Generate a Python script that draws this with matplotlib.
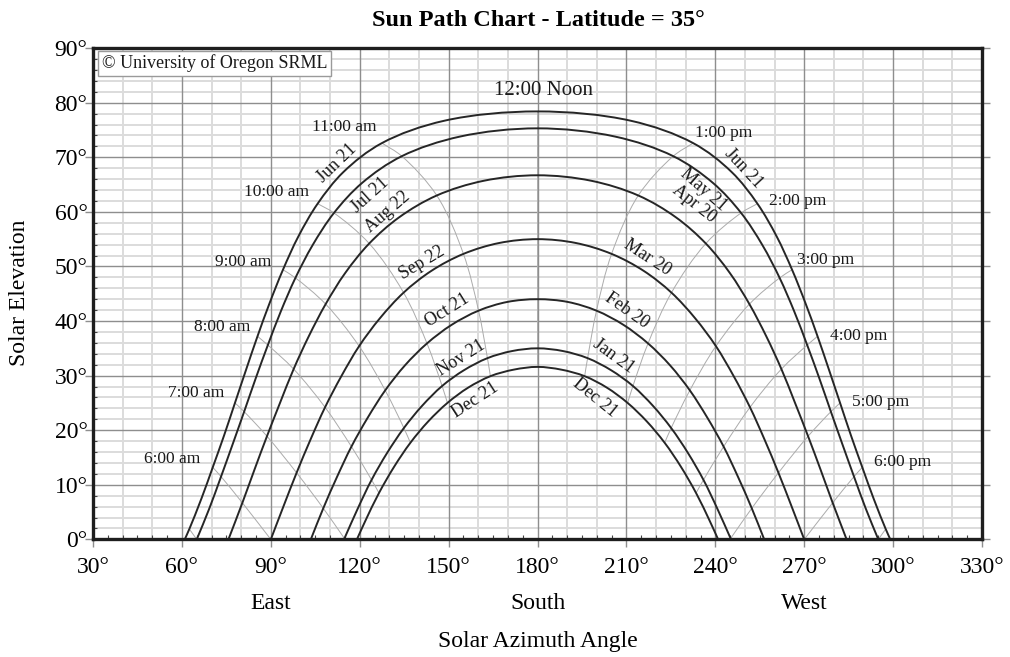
import numpy as np
import matplotlib
matplotlib.use("Agg")
import matplotlib.pyplot as plt
from matplotlib.path import Path
from matplotlib.patches import PathPatch

plt.rcParams['font.family'] = ['Liberation Serif', 'DejaVu Serif']

# Solar time, every half hour from 5:00 am to 7:00 pm (whole hours carry the hour lines)
TIMES = [5 + 0.5 * k for k in range(29)]

# Date curves: label on the morning side and on the afternoon side
DATES_AM = ["Jun 21", "Jul 21", "Aug 22", "Sep 22", "Oct 21", "Nov 21", "Dec 21"]
DATES_PM = ["Jun 21", "May 21", "Apr 20", "Mar 20", "Feb 20", "Jan 21", "Dec 21"]

# Azimuth where each date curve meets the horizon
SUNRISE_AZ = [60.95, 65.0, 75.7, 90.0, 103.5, 114.7, 119.05]
SUNSET_AZ = [299.05, 295.0, 284.3, 270.0, 256.5, 245.3, 240.95]

# Sun position (azimuth, elevation in degrees) at each time; None = sun below horizon
N = None
AZ_JUN21 = [62.5, 66.6, 70.4, 74.2, 77.9, 81.6, 85.5, 89.6, 94.1, 99.3, 105.8, 114.5, 127.5, 148.6, 180.0,
            211.4, 232.5, 245.5, 254.2, 260.7, 265.9, 270.4, 274.5, 278.4, 282.1, 285.8, 289.6, 293.4, 297.5]
EL_JUN21 = [1.9, 7.5, 13.2, 19.0, 25.0, 31.0, 37.2, 43.3, 49.4, 55.5, 61.5, 67.3, 72.6, 76.7, 78.4,
            76.7, 72.6, 67.3, 61.5, 55.5, 49.4, 43.3, 37.2, 31.0, 25.0, 19.0, 13.2, 7.5, 1.9]
AZ_MAY21 = [65.0, 69.2, 73.2, 77.1, 81.0, 84.9, 89.0, 93.4, 98.3, 104.1, 111.3, 120.8, 134.2, 153.9, 180.0,
            206.1, 225.8, 239.2, 248.7, 255.9, 261.7, 266.6, 271.0, 275.1, 279.0, 282.9, 286.8, 290.8, 295.0]
EL_MAY21 = [0.0, 5.6, 11.5, 17.4, 23.4, 29.5, 35.6, 41.8, 47.9, 53.9, 59.8, 65.3, 70.2, 73.8, 75.3,
            73.8, 70.2, 65.3, 59.8, 53.9, 47.9, 41.8, 35.6, 29.5, 23.4, 17.4, 11.5, 5.6, 0.0]
AZ_APR20 = [N, 76.1, 80.4, 84.5, 88.7, 93.1, 97.7, 102.8, 108.5, 115.1, 123.2, 133.3, 146.0, 161.9, 180.0,
            198.1, 214.0, 226.7, 236.8, 244.9, 251.5, 257.2, 262.3, 266.9, 271.3, 275.5, 279.6, 283.9, N]
EL_APR20 = [N, 0.7, 6.7, 12.8, 18.9, 25.0, 31.2, 37.2, 43.1, 48.8, 54.2, 59.0, 63.0, 65.7, 66.7,
            65.7, 63.0, 59.0, 54.2, 48.8, 43.1, 37.2, 31.2, 25.0, 18.9, 12.8, 6.7, 0.7, N]
AZ_MAR20 = [N, N, 90.0, 94.3, 98.7, 103.4, 108.3, 113.8, 119.8, 126.8, 134.8, 144.2, 155.0, 167.1, 180.0,
            192.9, 205.0, 215.8, 225.2, 233.2, 240.2, 246.2, 251.7, 256.6, 261.3, 265.7, 270.0, N, N]
EL_MAR20 = [N, N, 0.0, 6.1, 12.2, 18.3, 24.2, 29.9, 35.4, 40.5, 45.2, 49.2, 52.3, 54.3, 55.0,
            54.3, 52.3, 49.2, 45.2, 40.5, 35.4, 29.9, 24.2, 18.3, 12.2, 6.1, 0.0, N, N]
AZ_FEB20 = [N, N, N, N, 107.7, 112.3, 117.2, 122.7, 128.6, 135.3, 142.7, 151.0, 160.1, 169.8, 180.0,
            190.2, 199.9, 209.0, 217.3, 224.7, 231.4, 237.3, 242.8, 247.7, 252.3, N, N, N, N]
EL_FEB20 = [N, N, N, N, 5.7, 11.4, 17.0, 22.3, 27.3, 31.9, 35.9, 39.3, 41.9, 43.5, 44.0,
            43.5, 41.9, 39.3, 35.9, 31.9, 27.3, 22.3, 17.0, 11.4, 5.7, N, N, N, N]
AZ_JAN21 = [N, N, N, N, 114.8, 119.3, 124.0, 129.2, 134.9, 141.1, 147.8, 155.2, 163.1, 171.4, 180.0,
            188.6, 196.9, 204.8, 212.2, 218.9, 225.1, 230.8, 236.0, 240.7, 245.2, N, N, N, N]
EL_JAN21 = [N, N, N, N, 0.2, 5.6, 10.9, 15.8, 20.4, 24.5, 28.1, 31.0, 33.2, 34.5, 35.0,
            34.5, 33.2, 31.0, 28.1, 24.5, 20.4, 15.8, 10.9, 5.6, 0.2, N, N, N, N]
AZ_DEC21 = [N, N, N, N, N, 121.9, 126.5, 131.6, 137.1, 143.1, 149.6, 156.6, 164.1, 172.0, 180.0,
            188.0, 195.9, 203.4, 210.4, 216.9, 222.9, 228.4, 233.5, 238.1, N, N, N, N, N]
EL_DEC21 = [N, N, N, N, N, 3.4, 8.5, 13.3, 17.7, 21.6, 25.0, 27.8, 29.9, 31.1, 31.6,
            31.1, 29.9, 27.8, 25.0, 21.6, 17.7, 13.3, 8.5, 3.4, N, N, N, N, N]

AZ_TABLE = [AZ_JUN21, AZ_MAY21, AZ_APR20, AZ_MAR20, AZ_FEB20, AZ_JAN21, AZ_DEC21]
EL_TABLE = [EL_JUN21, EL_MAY21, EL_APR20, EL_MAR20, EL_FEB20, EL_JAN21, EL_DEC21]

HOUR_LABELS = ["6:00 am", "7:00 am", "8:00 am", "9:00 am", "10:00 am", "11:00 am",
               "12:00 Noon", "1:00 pm", "2:00 pm", "3:00 pm", "4:00 pm", "5:00 pm", "6:00 pm"]

# where the labels sit (azimuth, elevation[, rotation])
HOUR_LABEL_POS = [(56.8, 14.7), (64.7, 26.8), (73.7, 38.9), (80.6, 50.8), (91.8, 63.7),
                  (114.7, 75.6), (181.9, 82.3), (242.7, 74.4), (267.8, 61.9), (277.3, 51.2),
                  (288.3, 37.3), (295.9, 25.2), (303.1, 14.2)]
DATE_AM_POS = [(112.4, 68.9, 44), (123.5, 63.1, 42), (129.3, 60.0, 41), (141.1, 50.6, 31),
               (149.6, 41.9, 32), (154.1, 33.2, 32), (158.9, 25.5, 33)]
DATE_PM_POS = [(249.5, 68.0, -47), (236.0, 64.0, -41), (232.8, 61.5, -38), (217.1, 51.7, -33),
               (210.3, 41.9, -35), (205.8, 33.5, -36), (199.4, 26.0, -39)]

COMPASS = ["East", "South", "West"]
COMPASS_AZ = [90, 180, 270]


def smooth_path(ax, xs, ys, alpha=0.5):
    """Centripetal Catmull-Rom curve through the points, as a Bezier path"""
    P = ax.transData.transform(np.column_stack([xs, ys]))
    if len(P) < 3:
        return Path(ax.transData.inverted().transform(P))
    ext = np.vstack([2 * P[0] - P[1], P, 2 * P[-1] - P[-2]])
    verts = [P[0]]
    codes = [Path.MOVETO]
    for i in range(1, len(P)):
        p0, p1, p2, p3 = ext[i - 1], ext[i], ext[i + 1], ext[i + 2]
        d1 = np.linalg.norm(p1 - p0) ** alpha
        d2 = np.linalg.norm(p2 - p1) ** alpha
        d3 = np.linalg.norm(p3 - p2) ** alpha
        b1 = (d1**2 * p2 - d2**2 * p0 + (2 * d1**2 + 3 * d1 * d2 + d2**2) * p1) / (3 * d1 * (d1 + d2))
        b2 = (d3**2 * p1 - d2**2 * p3 + (2 * d3**2 + 3 * d3 * d2 + d2**2) * p2) / (3 * d3 * (d3 + d2))
        verts += [b1, b2, p2]
        codes += [Path.CURVE4] * 3
    return Path(ax.transData.inverted().transform(np.array(verts)), codes)


fig = plt.figure(figsize=(10.1, 6.57), dpi=100)
ax = fig.add_axes([0.0921, 0.179, 0.8802, 0.7478])
ax.set_xlim(30, 330)
ax.set_ylim(0, 90)

# grid
for a in range(40, 330, 10):
    if a % 30:
        ax.axvline(a, color='#dcdcdc', lw=1.4, zorder=0)
for e in range(2, 90, 2):
    if e % 10:
        ax.axhline(e, color='#dcdcdc', lw=1.4, zorder=0)
for a in range(60, 330, 30):
    ax.axvline(a, color='#8e8e8e', lw=1.0, zorder=0.5)
for e in range(10, 90, 10):
    ax.axhline(e, color='#8e8e8e', lw=1.0, zorder=0.5)

# hour lines (whole hours only)
for j in range(0, len(TIMES), 2):
    xs = [AZ_TABLE[i][j] for i in range(7) if EL_TABLE[i][j] is not None]
    ys = [EL_TABLE[i][j] for i in range(7) if EL_TABLE[i][j] is not None]
    if len(xs) >= 2:
        ax.add_patch(PathPatch(smooth_path(ax, xs, ys), fill=False, ec='#ababab', lw=0.7, zorder=1))

# date curves
for i in range(7):
    xs = [SUNRISE_AZ[i]]
    ys = [0.0]
    for az, el in zip(AZ_TABLE[i], EL_TABLE[i]):
        if el is not None and el > 1.0:
            xs.append(az)
            ys.append(el)
    xs.append(SUNSET_AZ[i])
    ys.append(0.0)
    ax.add_patch(PathPatch(smooth_path(ax, xs, ys), fill=False, ec='#262626', lw=1.4, zorder=2))

# labels
for txt, (x, y) in zip(HOUR_LABELS, HOUR_LABEL_POS):
    ax.text(x, y, txt, ha='center', va='center', fontsize=15 if 'Noon' in txt else 12.5,
            color='#1a1a1a', zorder=3)
for txt, (x, y, r) in zip(DATES_AM, DATE_AM_POS):
    ax.text(x, y, txt, ha='center', va='center', rotation=r, rotation_mode='anchor',
            fontsize=13, color='#1a1a1a', zorder=3)
for txt, (x, y, r) in zip(DATES_PM, DATE_PM_POS):
    ax.text(x, y, txt, ha='center', va='center', rotation=r, rotation_mode='anchor',
            fontsize=13, color='#1a1a1a', zorder=3)

ax.text(0.0101, 0.9687, "\u00a9 University of Oregon SRML", transform=ax.transAxes,
        ha='left', va='center', fontsize=13, color='#1a1a1a', zorder=4,
        bbox=dict(boxstyle='square,pad=0.2', fc='white', ec='#9a9a9a', lw=1))

for txt, a in zip(COMPASS, COMPASS_AZ):
    ax.text(a, -0.13, txt, transform=ax.get_xaxis_transform(), ha='center', va='center', fontsize=17)

# axes and ticks
ax.set_xticks(range(30, 331, 30))
ax.set_xticklabels([f"{v}\u00b0" for v in range(30, 331, 30)])
ax.set_xticks(range(35, 330, 5), minor=True)
ax.set_yticks(range(0, 91, 10))
ax.set_yticklabels([f"{v}\u00b0" for v in range(0, 91, 10)])
ax.set_yticks(range(2, 90, 2), minor=True)
ax.tick_params(which='major', direction='out', length=5.5, width=1, color='#8e8e8e', labelsize=17)
ax.tick_params(axis='y', which='major', right=True, pad=-1.5)
ax.tick_params(axis='x', which='major', pad=7)
ax.tick_params(which='minor', direction='in', length=3.2, width=0.8, color='#444444')
for s in ax.spines.values():
    s.set_linewidth(2.4)
    s.set_color('#1e1e1e')
    s.set_zorder(5)

fig.text(538 / 1010, 1 - 20 / 657, "Sun Path Chart - Latitude = 35\u00b0", ha='center', va='center',
         fontsize=17.5, weight='bold')
fig.text(20 / 1010, 1 - 293 / 657, "Solar Elevation", rotation=90, ha='center', va='center', fontsize=17)
fig.text(538 / 1010, 1 - 642 / 657, "Solar Azimuth Angle", ha='center', va='center', fontsize=17)

fig.savefig("out.png", dpi=100)
